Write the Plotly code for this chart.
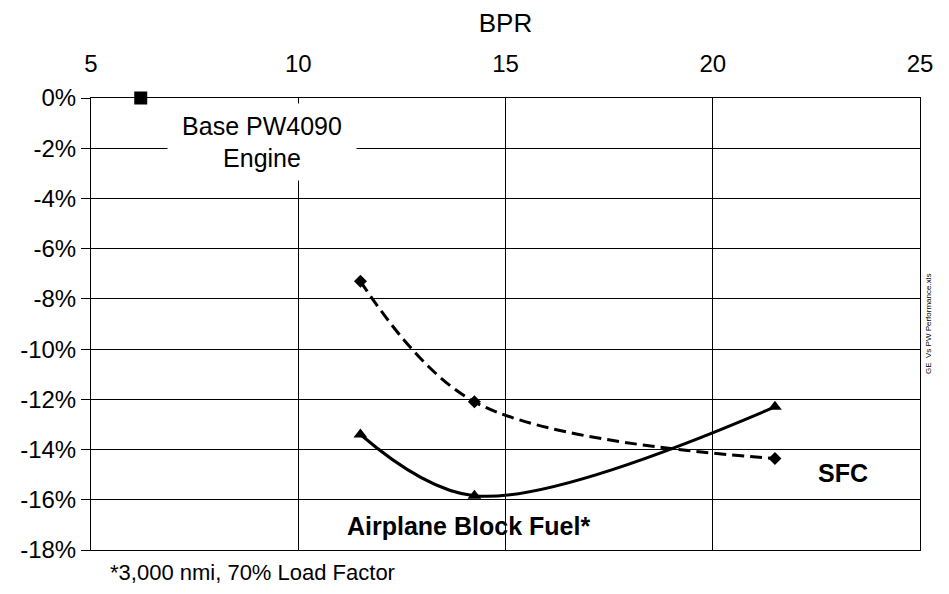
import plotly.graph_objects as go

# Data
base_bpr = [6.2]
base_val = [0.0]

sfc_bpr = [11.5, 14.25, 21.5]
sfc_val = [-0.073, -0.121, -0.1436]

fuel_bpr = [11.5, 14.25, 21.5]
fuel_val = [-0.134, -0.1584, -0.123]

x_tick_vals = [5, 10, 15, 20, 25]
x_tick_text = ["5", "10", "15", "20", "25"]
y_tick_vals = [0, -0.02, -0.04, -0.06, -0.08, -0.10, -0.12, -0.14, -0.16, -0.18]
y_tick_text = ["0%", "-2%", "-4%", "-6%", "-8%", "-10%", "-12%", "-14%", "-16%", "-18%"]

FONT = "Liberation Sans, Arial, sans-serif"

fig = go.Figure()

fig.add_trace(go.Scatter(
    x=sfc_bpr, y=sfc_val, mode="lines+markers", name="SFC",
    line=dict(color="black", width=3, dash="12px,6px", shape="spline", smoothing=1.0),
    marker=dict(symbol="diamond", size=10, color="black"),
    cliponaxis=False, showlegend=False,
))
fig.add_trace(go.Scatter(
    x=fuel_bpr, y=fuel_val, mode="lines+markers", name="Airplane Block Fuel",
    line=dict(color="black", width=3, shape="spline", smoothing=1.0),
    marker=dict(symbol="triangle-up", size=12, color="black"),
    cliponaxis=False, showlegend=False,
))
fig.add_trace(go.Scatter(
    x=base_bpr, y=base_val, mode="markers", name="Base PW4090",
    marker=dict(symbol="square", size=13, color="black"),
    cliponaxis=False, showlegend=False,
))

fig.update_layout(
    width=949, height=594,
    margin=dict(l=81, r=37, t=87, b=52),
    paper_bgcolor="white", plot_bgcolor="white",
    font=dict(family=FONT, color="black", size=24),
    xaxis=dict(
        side="top", range=[5, 25], tickvals=x_tick_vals, ticktext=x_tick_text,
        showgrid=True, gridcolor="black", gridwidth=1,
        showline=True, linecolor="black", linewidth=1, mirror=True,
        ticks="", zeroline=False, ticklabelstandoff=15,
        tickfont=dict(size=24, family=FONT),
        title=dict(text="BPR", font=dict(size=26, family=FONT), standoff=12),
    ),
    yaxis=dict(
        range=[-0.18, 0], tickvals=y_tick_vals, ticktext=y_tick_text,
        showgrid=True, gridcolor="black", gridwidth=1,
        showline=True, linecolor="black", linewidth=1, mirror=True,
        ticks="outside", ticklen=9, tickcolor="black", zeroline=False,
        tickfont=dict(size=24, family=FONT),
    ),
    annotations=[
        dict(x=9.12, y=-0.0175, xref="x", yref="y", text="Base PW4090<br>Engine",
             showarrow=False, bgcolor="white", width=186, height=74,
             font=dict(size=25, family=FONT)),
        dict(x=23.14, y=-0.1494, xref="x", yref="y", text="<b>SFC</b>",
             showarrow=False, font=dict(size=25, family=FONT)),
        dict(x=14.11, y=-0.1704, xref="x", yref="y", text="<b>Airplane Block Fuel*</b>",
             showarrow=False, font=dict(size=25, family=FONT)),
        dict(x=0.0205, y=-0.05, xref="paper", yref="paper", text="*3,000 nmi, 70% Load Factor",
             showarrow=False, xanchor="left", yanchor="middle", font=dict(size=22, family=FONT)),
        dict(x=1.0175, y=0.5, xref="paper", yref="paper", text="GE  Vs PW Performance.xls",
             showarrow=False, textangle=-90, font=dict(size=8, family=FONT)),
    ],
)

fig.write_html("out.html")
